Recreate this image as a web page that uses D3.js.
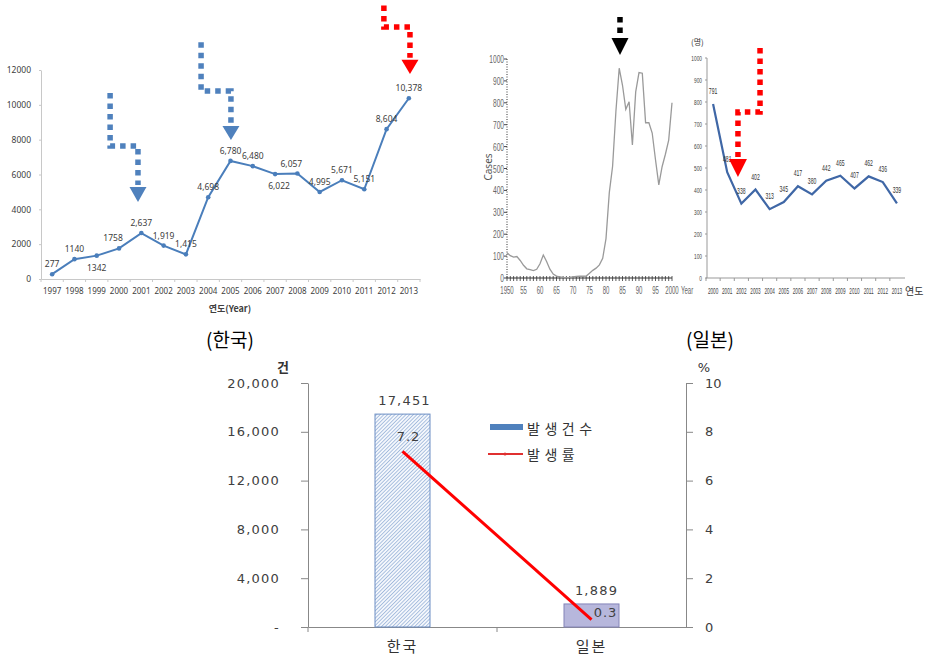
<!DOCTYPE html>
<html><head><meta charset="utf-8">
<script src="https://cdn.jsdelivr.net/npm/d3@7"></script>
<style>body{margin:0;background:#fff} svg{display:block}</style>
</head><body><svg id="c" width="925" height="668"></svg>
<script>
// ---------------- DATA ----------------
// Panel 1: Korea, yearly cases
const krYears = [1997,1998,1999,2000,2001,2002,2003,2004,2005,2006,2007,2008,2009,2010,2011,2012,2013];
const krCases = [277,1140,1342,1758,2637,1919,1415,4698,6780,6480,6022,6057,4995,5671,5151,8604,10378];
const krLabels = ["277","1140","1342","1758","2,637","1,919","1,415","4,698","6,780","6,480","6,022","6,057","4,995","5,671","5,151","8,604","10,378"];
const krLabelPlace = ["above","above","below","above-left","above","above","above","above","above","above","below-right","above-left","above","above","above","above","above"];
const krYTicks = [0,2000,4000,6000,8000,10000,12000];
// Panel 2: Japan 1950-2000
const jpLongYears = [1950,1951,1952,1953,1954,1955,1956,1957,1958,1959,1960,1961,1962,1963,1964,1965,1966,1967,1968,1969,1970,1971,1972,1973,1974,1975,1976,1977,1978,1979,1980,1981,1982,1983,1984,1985,1986,1987,1988,1989,1990,1991,1992,1993,1994,1995,1996,1997,1998,1999,2000];
const jpLongCases = [115,102,95,98,80,58,42,38,34,40,65,105,75,40,18,9,5,3,2,3,5,7,8,8,9,22,35,45,60,90,180,390,510,760,958,880,770,805,607,850,938,935,709,709,662,540,425,508,565,630,800];
const jpLongXTicks = [1950,1955,1960,1965,1970,1975,1980,1985,1990,1995,2000];
const jpLongXLabels = ["1950","55","60","65","70","75","80","85","90","95","2000"];
const jpLongYTicks = [0,100,200,300,400,500,600,700,800,900,1000];
// Panel 3: Japan 2000-2013
const jpYears = [2000,2001,2002,2003,2004,2005,2006,2007,2008,2009,2010,2011,2012,2013];
const jpCases = [791,481,338,402,313,345,417,380,442,465,407,462,436,339];
const jpYTicks = [0,100,200,300,400,500,600,700,800,900,1000];
// Panel 4: comparison
const countries = ["한국","일본"];
const totalCases = [17451,1889];
const totalLabels = ["17,451","1,889"];
const rates = [7.2,0.3];
const leftTicks = [0,4000,8000,12000,16000,20000];
const rightTicks = [0,2,4,6,8,10];
// annotation arrows (data units: [year, value])
const krArrows = [
  {color:"#4f81bd", path:[[1999.6,10680],[1999.6,7636],[2000.85,7636],[2000.85,5400]], tip:[2000.85,4421]},
  {color:"#4f81bd", path:[[2003.68,13600],[2003.68,10794],[2005.02,10794],[2005.02,8900]], tip:[2005.02,7981]},
  {color:"#ff0000", path:[[2011.88,15700],[2011.88,14469],[2013.05,14469],[2013.05,12700]], tip:[2013.05,11770]}
];
const jpLongArrows = [{color:"#000", path:[[1984.24,1192],[1984.24,1105]], tip:[1984.24,1018]}];
const jpArrows = [{color:"#ff0000", path:[[2003.32,1045],[2003.32,755],[2001.76,755],[2001.76,550]], tip:[2001.76,459]}];

// ---------------- DRAW ----------------
const svg = d3.select("#c");
const SANS = "'Noto Sans','DejaVu Sans',sans-serif";
const KR = "'Noto Sans CJK KR','Noto Sans',sans-serif";

function drawArrows(g, arrows, fx, fy, hw) {
  arrows.forEach(a => {
    const pts = a.path.map(p => [fx(p[0]), fy(p[1])]);
    g.append("path").attr("d", d3.line()(pts)).attr("fill","none")
      .attr("stroke", a.color).attr("stroke-width",5.5).attr("stroke-dasharray","5.5,5");
    const last = pts[pts.length-1];
    const tx = fx(a.tip[0]), ty = fy(a.tip[1]);
    const by = last[1] + 2;
    g.append("path").attr("d", d3.line()([[tx-hw,by],[tx+hw,by],[tx,ty]]) + "Z").attr("fill", a.color);
  });
}
function condText(g, x, y, txt, size, anchor, sx, fill) {
  g.append("text").attr("transform", `translate(${x},${y}) scale(${sx},1)`)
    .attr("text-anchor", anchor).attr("font-size", size).attr("font-family", "'Liberation Sans','Arial',sans-serif")
    .attr("fill", fill).text(txt);
}

// ===== Panel 1 =====
{
  const g = svg.append("g");
  const x = d3.scaleBand().domain(krYears).range([41,420]);
  const cx = d => x(d) + x.bandwidth()/2;
  const y = d3.scaleLinear().domain([0,12000]).range([279,70]);
  const xf = d3.scaleLinear().domain([krYears[0], krYears[krYears.length-1]]).range([cx(krYears[0]), cx(krYears[krYears.length-1])]);

  const ya = g.append("g").attr("transform","translate(41,0)")
    .call(d3.axisLeft(y).tickValues(krYTicks).tickSize(2).tickSizeOuter(0).tickPadding(8).tickFormat(d3.format("d")));
  ya.select(".domain").attr("stroke","#c8c8c8");
  ya.selectAll(".tick line").attr("stroke","#c8c8c8");
  ya.selectAll("text").attr("font-size",8.5).attr("font-family",SANS).attr("fill","#404040");

  const xa = g.append("g").attr("transform","translate(0,279)")
    .call(d3.axisBottom(x).tickSize(0).tickPadding(9));
  xa.select(".domain").attr("stroke","#c8c8c8");
  xa.selectAll("text").attr("font-size",8).attr("font-family",SANS).attr("fill","#404040");
  g.selectAll(".bt").data(krYears.concat(["end"])).enter().append("line")
    .attr("x1", d => d==="end" ? 420 : x(d)).attr("x2", d => d==="end" ? 420 : x(d))
    .attr("y1",279).attr("y2",282).attr("stroke","#c8c8c8");

  g.append("text").attr("x",230).attr("y",312).attr("text-anchor","middle")
    .attr("font-size",9).attr("font-weight","bold").attr("font-family",KR).attr("fill","#404040").text("연도(Year)");

  g.append("path").datum(krCases).attr("fill","none").attr("stroke","#4a7ebb").attr("stroke-width",2)
    .attr("d", d3.line().x((d,i)=>cx(krYears[i])).y(d=>y(d)));
  g.selectAll(".pt").data(krCases).enter().append("circle")
    .attr("cx",(d,i)=>cx(krYears[i])).attr("cy",d=>y(d)).attr("r",2.3).attr("fill","#4a7ebb");

  g.selectAll(".lb").data(krCases).enter().append("text")
    .attr("x",(d,i)=>cx(krYears[i]) + (krLabelPlace[i].endsWith("left") ? -6 : krLabelPlace[i].endsWith("right") ? 4 : 0))
    .attr("y",(d,i)=>y(d) + (krLabelPlace[i].startsWith("below") ? 15 : -7))
    .attr("text-anchor","middle").attr("font-size",8.5).attr("font-family",SANS).attr("fill","#404040")
    .text((d,i)=>krLabels[i]);

  drawArrows(g, krArrows, xf, y, 8.5);

  svg.append("text").attr("x",230).attr("y",347).attr("text-anchor","middle").attr("font-size",19)
    .attr("font-family",KR).attr("fill","#000").text("(한국)");
}

// ===== Panel 2 =====
{
  const g = svg.append("g");
  const x = d3.scaleLinear().domain([1950,2000]).range([507,672]);
  const y = d3.scaleLinear().domain([0,1000]).range([278,59]);
  g.append("line").attr("x1",507).attr("x2",507).attr("y1",y(1000)).attr("y2",y(0))
    .attr("stroke","#333").attr("stroke-dasharray","1,1.5");
  g.selectAll(".yt").data(jpLongYTicks).enter().append("line")
    .attr("x1",504).attr("x2",507).attr("y1",d=>y(d)).attr("y2",d=>y(d)).attr("stroke","#444");
  jpLongYTicks.forEach(d => condText(g, 504, y(d)+4, String(d), 11, "end", 0.6, "#666"));

  g.append("line").attr("x1",x(1950)).attr("x2",x(2000)).attr("y1",278).attr("y2",278).attr("stroke","#333").attr("stroke-width",1.2);
  g.selectAll(".xt").data(jpLongYears).enter().append("line")
    .attr("x1",d=>x(d)).attr("x2",d=>x(d)).attr("y1",276).attr("y2",281).attr("stroke","#333").attr("stroke-width",0.8);
  jpLongXTicks.forEach((d,i) => condText(g, x(d), 294, jpLongXLabels[i], 11, "middle", 0.55, "#666"));
  condText(g, 681, 294, "Year", 11, "start", 0.55, "#666");
  g.append("text").attr("transform",`translate(492,167) rotate(-90)`).attr("text-anchor","middle")
    .attr("font-size",10).attr("font-family",SANS).attr("fill","#555").text("Cases");

  g.append("path").datum(jpLongCases).attr("fill","none").attr("stroke","#9a9a9a").attr("stroke-width",1.3)
    .attr("d", d3.line().x((d,i)=>x(jpLongYears[i])).y(d=>y(d)));

  drawArrows(g, jpLongArrows, x, y, 8.5);
}

// ===== Panel 3 =====
{
  const g = svg.append("g");
  const x = d3.scaleBand().domain(jpYears).range([706,904]);
  const cx = d => x(d) + x.bandwidth()/2;
  const y = d3.scaleLinear().domain([0,1000]).range([278,58]);
  const xf = d3.scaleLinear().domain([jpYears[0], jpYears[jpYears.length-1]]).range([cx(jpYears[0]), cx(jpYears[jpYears.length-1])]);

  g.append("line").attr("x1",707).attr("x2",707).attr("y1",y(1000)).attr("y2",y(0)).attr("stroke","#999");
  g.selectAll(".yt").data(jpYTicks).enter().append("line")
    .attr("x1",705).attr("x2",707).attr("y1",d=>y(d)).attr("y2",d=>y(d)).attr("stroke","#999");
  jpYTicks.forEach(d => condText(g, 702, y(d)+3, String(d), 8, "end", 0.6, "#444"));

  g.append("line").attr("x1",706).attr("x2",905).attr("y1",278).attr("y2",278).attr("stroke","#999");
  g.selectAll(".xt").data(jpYears).enter().append("line")
    .attr("x1",d=>x(d)).attr("x2",d=>x(d)).attr("y1",278).attr("y2",281).attr("stroke","#999");
  jpYears.forEach(d => condText(g, cx(d), 294, String(d), 8.5, "middle", 0.55, "#444"));
  g.append("text").attr("x",905).attr("y",295).attr("font-size",10).attr("font-family",KR).attr("fill","#333").text("연도");
  g.append("text").attr("x",691).attr("y",45).attr("font-size",8).attr("font-family",KR).attr("fill","#333").text("(명)");

  g.append("path").datum(jpCases).attr("fill","none").attr("stroke","#3f67a6").attr("stroke-width",2.2)
    .attr("d", d3.line().x((d,i)=>cx(jpYears[i])).y(d=>y(d)));
  jpCases.forEach((d,i) => condText(g, cx(jpYears[i]), y(d)-10, String(d), 8.5, "middle", 0.6, "#333"));

  drawArrows(g, jpArrows, xf, y, 9);

  svg.append("text").attr("x",710).attr("y",347).attr("text-anchor","middle").attr("font-size",19)
    .attr("font-family",KR).attr("fill","#000").text("(일본)");
}

// ===== Panel 4 =====
{
  const g = svg.append("g");
  const defs = svg.append("defs");
  const pat = defs.append("pattern").attr("id","hatch").attr("patternUnits","userSpaceOnUse")
    .attr("width",2.6).attr("height",2.6).attr("patternTransform","rotate(45)");
  pat.append("rect").attr("width",2.6).attr("height",2.6).attr("fill","#f4f7fc");
  pat.append("line").attr("x1",0).attr("y1",0).attr("x2",0).attr("y2",2.6).attr("stroke","#86a6d2").attr("stroke-width",1.3);

  const x = d3.scaleBand().domain(countries).range([308,686]);
  const cx = d => x(d) + x.bandwidth()/2;
  const yL = d3.scaleLinear().domain([0,20000]).range([627,383]);
  const yR = d3.scaleLinear().domain([0,10]).range([627,383]);
  const TF = "'DejaVu Sans',sans-serif";

  const la = g.append("g").attr("transform","translate(308,0)")
    .call(d3.axisLeft(yL).tickValues(leftTicks).tickSize(7).tickSizeOuter(0).tickPadding(21)
      .tickFormat(d => d===0 ? "-" : d3.format(",")(d)));
  la.select(".domain").attr("stroke","#888");
  la.selectAll(".tick line").attr("stroke","#888");
  la.selectAll("text").attr("font-size",13).attr("letter-spacing",1.2).attr("font-family",TF).attr("fill","#404040");

  const ra = g.append("g").attr("transform","translate(686,0)")
    .call(d3.axisRight(yR).tickValues(rightTicks).tickSize(7).tickSizeOuter(0).tickPadding(12));
  ra.select(".domain").attr("stroke","#888");
  ra.selectAll(".tick line").attr("stroke","#888");
  ra.selectAll("text").attr("font-size",13).attr("font-family",TF).attr("fill","#404040");

  const xa = g.append("g").attr("transform","translate(0,627)")
    .call(d3.axisBottom(x).tickSize(0).tickPadding(14));
  xa.select(".domain").attr("stroke","#888");
  xa.selectAll("text").attr("font-size",15).attr("letter-spacing",2).attr("font-family",KR).attr("fill","#333");
  g.selectAll(".bt").data(countries).enter().append("line")
    .attr("x1",d=>x(d)).attr("x2",d=>x(d)).attr("y1",627).attr("y2",632).attr("stroke","#888");

  g.append("text").attr("x",283).attr("y",372).attr("text-anchor","middle").attr("font-size",13).attr("font-weight","bold")
    .attr("font-family",KR).attr("fill","#333").text("건");
  g.append("text").attr("x",704).attr("y",372).attr("text-anchor","middle").attr("font-size",13)
    .attr("font-family",TF).attr("fill","#333").text("%");

  const bw = 55;
  g.selectAll(".bar").data(totalCases).enter().append("rect")
    .attr("x",(d,i)=>cx(countries[i]) - bw/2).attr("width",bw)
    .attr("y",d=>yL(d)).attr("height",d=>yL(0)-yL(d))
    .attr("fill",(d,i)=> i===0 ? "url(#hatch)" : "#b7b7dc")
    .attr("stroke",(d,i)=> i===0 ? "#6c8ec4" : "#8484b8").attr("stroke-width",1);

  g.selectAll(".bl").data(totalCases).enter().append("text")
    .attr("x",(d,i)=>cx(countries[i]) + (i===0 ? 2 : 5)).attr("y",d=>yL(d)-9)
    .attr("text-anchor","middle").attr("font-size",13).attr("letter-spacing",1.2).attr("font-family",TF).attr("fill","#404040")
    .text((d,i)=>totalLabels[i]);

  g.append("path").datum(rates).attr("fill","none").attr("stroke","#ff0000").attr("stroke-width",3)
    .attr("d", d3.line().x((d,i)=>cx(countries[i])).y(d=>yR(d)));
  g.selectAll(".rl").data(rates).enter().append("text")
    .attr("x",(d,i)=>cx(countries[i]) + (i===0 ? 6 : 14)).attr("y",(d,i)=>yR(d) + (i===0 ? -10 : -3))
    .attr("text-anchor","middle").attr("font-size",13).attr("letter-spacing",1).attr("font-family",TF).attr("fill","#404040")
    .text(d=>d3.format(".1f")(d));

  // legend
  g.append("rect").attr("x",490).attr("y",424).attr("width",33).attr("height",6).attr("fill","#4f81bd");
  g.append("text").attr("x",527).attr("y",434).attr("font-size",14).attr("letter-spacing",4.5)
    .attr("font-family",KR).attr("fill","#333").text("발생건수");
  g.append("line").attr("x1",488).attr("x2",523).attr("y1",454).attr("y2",454).attr("stroke","#e03030").attr("stroke-width",2);
  g.append("circle").attr("cx",505).attr("cy",454).attr("r",1.5).attr("fill","#e03030");
  g.append("text").attr("x",527).attr("y",460).attr("font-size",14).attr("letter-spacing",4.5)
    .attr("font-family",KR).attr("fill","#333").text("발생률");
}
</script></body></html>
